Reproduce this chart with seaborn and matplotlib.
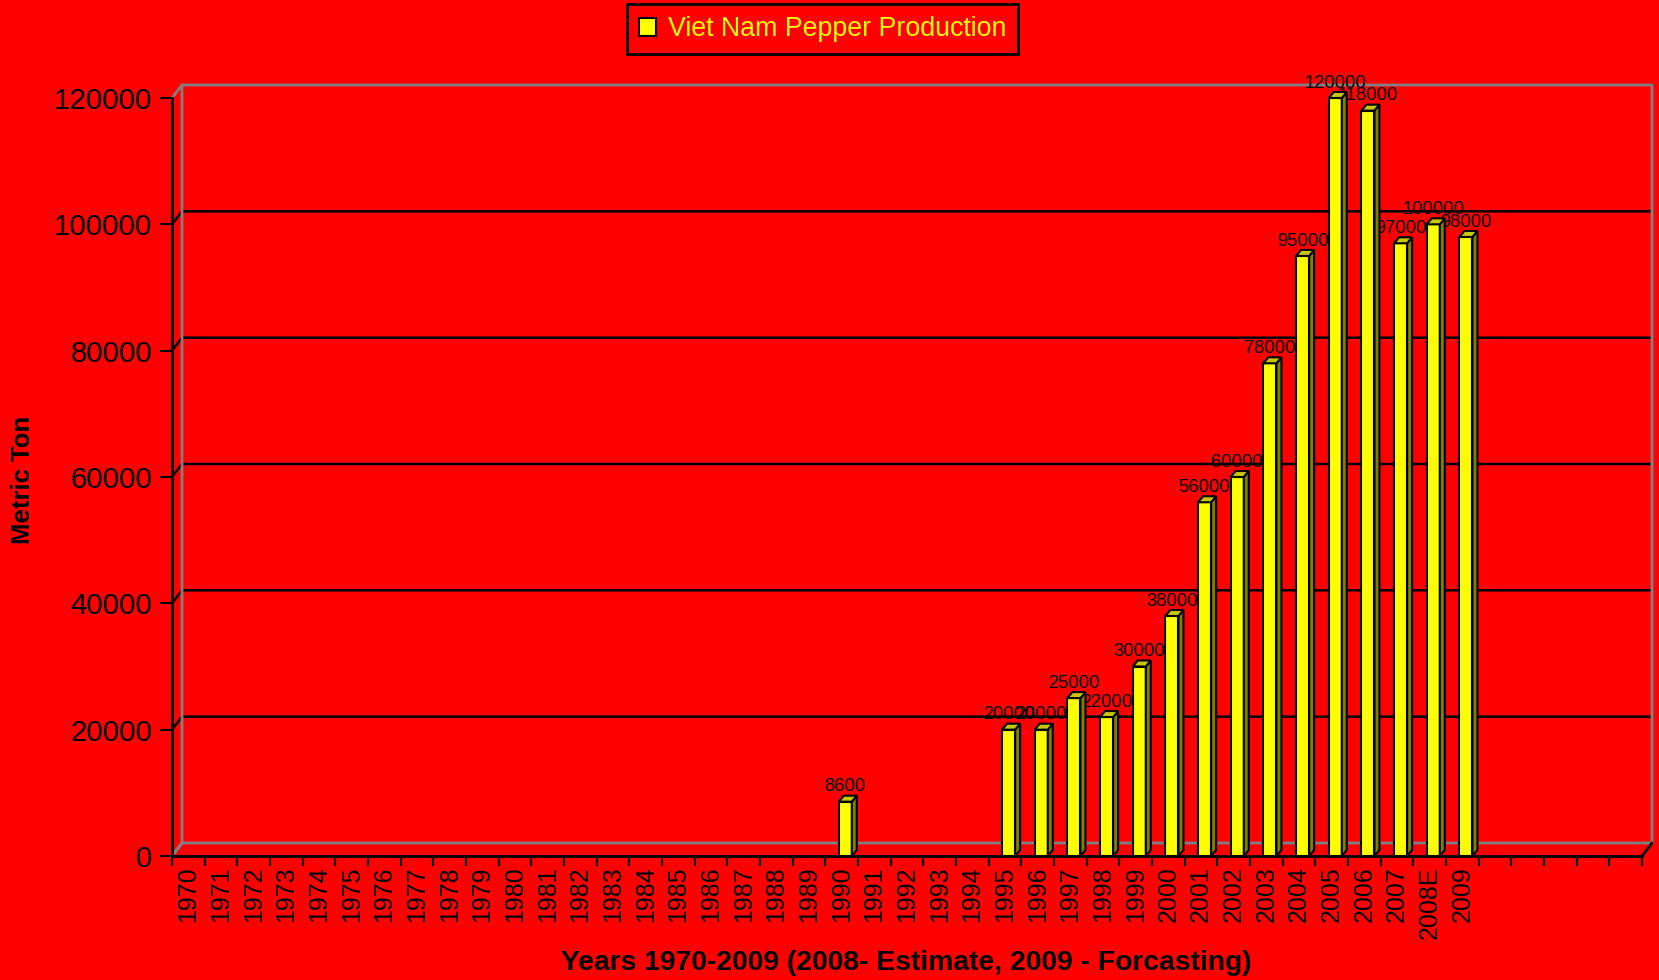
import matplotlib
matplotlib.use("Agg")
import matplotlib.pyplot as plt
import seaborn as sns
import pandas as pd
from matplotlib.patches import Patch, Polygon

# categories: 1970..2009, 2008 is an estimate
years = [str(y) for y in range(1970, 2008)] + ["2008E", "2009"]
production = ([None] * 20 + [8600] + [None] * 4 +
              [20000, 20000, 25000, 22000, 30000, 38000, 56000, 60000,
               78000, 95000, 120000, 118000, 97000, 100000, 98000])
y_ticks = [0, 20000, 40000, 60000, 80000, 100000, 120000]
n_slots = 45  # five empty slots after 2009

RED = "#FF0000"
YELLOW = "#FFFF00"
GREY = "#808080"

sns.set_theme(style="white")
plt.rcParams["font.family"] = ["Liberation Sans", "DejaVu Sans"]
plt.rcParams["text.color"] = "black"

fig = plt.figure(figsize=(16.59, 9.80), dpi=100, facecolor=RED)
ax = fig.add_axes([172 / 1659, 124 / 980, 1470 / 1659, 758 / 980])
ax.set_facecolor("none")

df = pd.DataFrame({"year": years, "tons": production}).dropna()
sns.barplot(data=df, x="year", y="tons", order=years, color=YELLOW,
            saturation=1, edgecolor="black", linewidth=1.5, width=0.4, ax=ax)

ax.set_xlim(-0.5, n_slots - 0.5)
ax.set_ylim(0, 120000)

# pixel -> data conversion for the fake 3D offsets
x0, y0 = ax.transData.transform((0, 0))
x1, y1 = ax.transData.transform((1, 1000))
px_x = 1.0 / (x1 - x0)
px_y = 1000.0 / (y1 - y0)
bdx, bdy = 10 * px_x, 13 * px_y     # back wall offset
ddx, ddy = 5 * px_x, 6 * px_y       # bar depth

lo, hi = -0.5, n_slots - 0.5
# back wall gridlines (with the bit on the side wall)
for v in y_ticks[1:-1]:
    ax.plot([lo, lo + bdx, hi + bdx], [v, v + bdy, v + bdy], color="black",
            lw=1.8, zorder=0.5, clip_on=False, solid_capstyle="butt")
# wall edges
ax.plot([lo, lo + bdx, hi + bdx, hi + bdx, lo + bdx, lo + bdx, lo],
        [0, bdy, bdy, 120000 + bdy, 120000 + bdy, bdy, 0],
        color=GREY, lw=2, zorder=0.6, clip_on=False)
ax.plot([lo + bdx, lo], [120000 + bdy, 120000], color=GREY, lw=2,
        zorder=0.6, clip_on=False)
ax.plot([hi, hi + bdx], [0, bdy], color="black", lw=2, zorder=0.6,
        clip_on=False)

# shift bars a bit right and add side / top faces
for p in ax.patches:
    p.set_x(p.get_x() + 0.11)
    p.set_zorder(3)
    x, w, h = p.get_x(), p.get_width(), p.get_height()
    side = Polygon([(x + w, 0), (x + w + ddx, ddy), (x + w + ddx, h + ddy),
                    (x + w, h)], closed=True, facecolor="#808000",
                   edgecolor="black", lw=1.5, zorder=3, clip_on=False)
    top = Polygon([(x, h), (x + ddx, h + ddy), (x + w + ddx, h + ddy),
                   (x + w, h)], closed=True, facecolor="#C8C800",
                  edgecolor="black", lw=1.5, zorder=3, clip_on=False)
    ax.add_patch(side)
    ax.add_patch(top)

ax.bar_label(ax.containers[0], fmt="%g", padding=4.5, fontsize=13.3,
             color="black", zorder=2.5, annotation_clip=False)

# axes, ticks
for s in ["top", "right"]:
    ax.spines[s].set_visible(False)
for s in ["left", "bottom"]:
    ax.spines[s].set_color("black")
    ax.spines[s].set_linewidth(2)
    ax.spines[s].set_zorder(2)

ax.set_yticks(y_ticks)
ax.set_yticklabels([str(v) for v in y_ticks])
ax.tick_params(axis="y", direction="out", length=8.6, width=1.5, pad=5.5,
               labelsize=21.3, colors="black", left=True)

ax.set_xticks([i - 0.5 for i in range(n_slots + 1)])
ax.set_xticklabels([])
ax.set_xticks(range(len(years)), minor=True)
ax.set_xticklabels(years, minor=True, rotation=90, va="top", ha="center")
ax.tick_params(axis="x", which="major", direction="out", length=7.2,
               width=1.5, bottom=True, colors="black")
ax.tick_params(axis="x", which="minor", length=0, pad=7.5, labelsize=18,
               colors="black", bottom=True)
ax.set_xlabel("")
ax.set_ylabel("")

fig.text(22.7 / 1659, 1 - 480 / 980, "Metric Ton", rotation=90,
         ha="center", va="center", fontsize=18.5, fontweight="bold",
         color="black")
fig.text(906 / 1659, 1 - 963 / 980,
         "Years 1970-2009 (2008- Estimate, 2009 - Forcasting)",
         ha="center", va="center", fontsize=20.3, fontweight="bold",
         color="black")

leg = fig.legend(handles=[Patch(facecolor=YELLOW, edgecolor="black", lw=1.5)],
                 labels=["Viet Nam Pepper Production"], loc="upper center",
                 bbox_to_anchor=(822.5 / 1659, 1 - 4 / 980), fontsize=19.3,
                 labelcolor=YELLOW, frameon=True, fancybox=False,
                 facecolor=RED, edgecolor="black", framealpha=1,
                 borderpad=0.45, handlelength=0.65, handleheight=0.65,
                 handletextpad=0.45, borderaxespad=0)
leg.get_frame().set_linewidth(2)

fig.savefig("out.png", dpi=100, facecolor=RED)
